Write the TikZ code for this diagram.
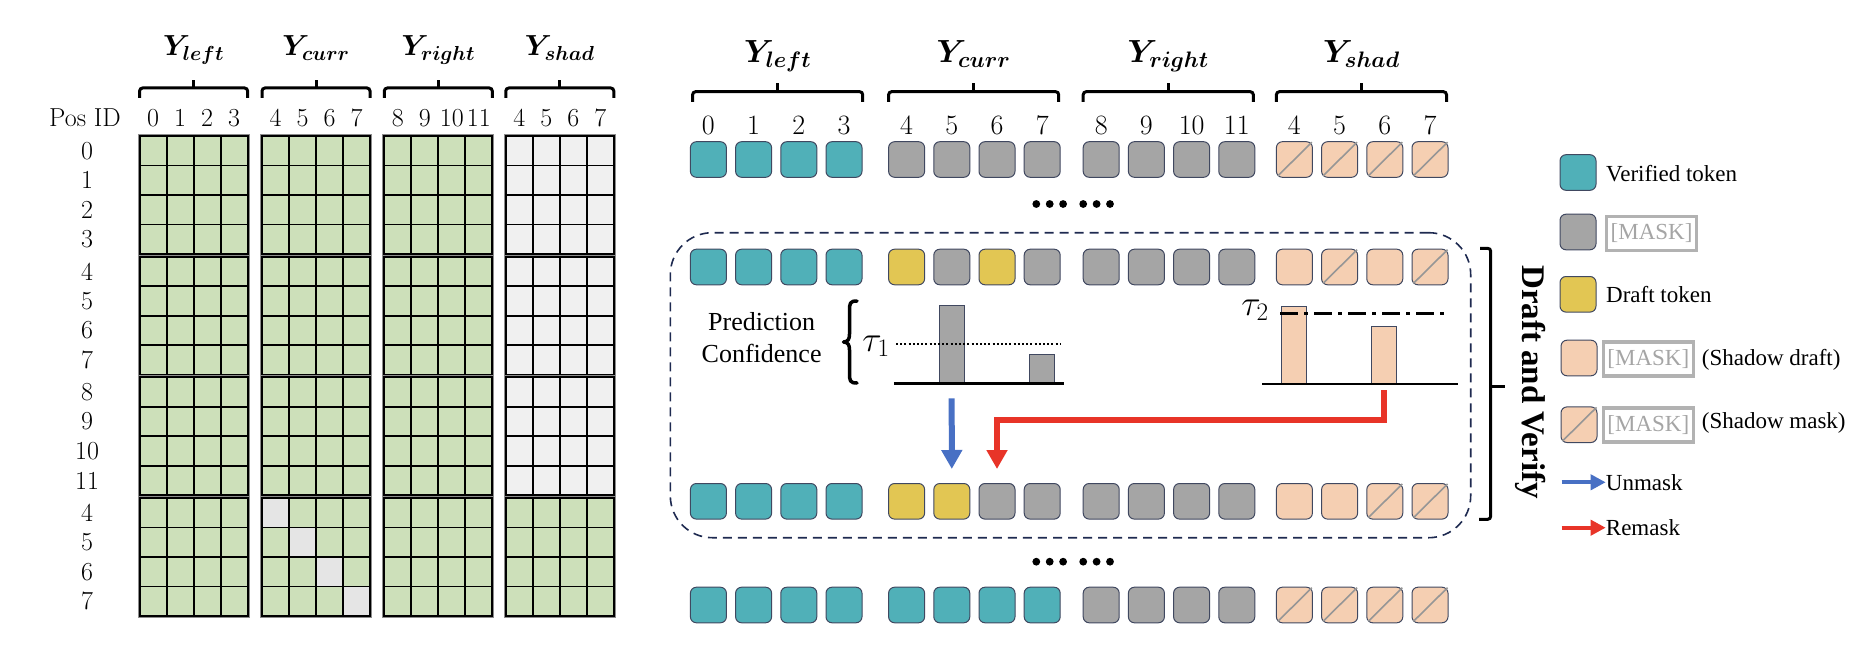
\RequirePackage{fix-cm}
\documentclass[tikz,border=0pt]{standalone}
\usepackage{amsmath}
\usepackage{fontspec}
\usetikzlibrary{arrows.meta}
\newfontfamily\tnr{Liberation Serif}
\definecolor{cellgreen}{RGB}{205,224,186}
\definecolor{shadgray}{RGB}{240,240,240}
\definecolor{diaggray}{RGB}{229,229,229}
\definecolor{tealc}{RGB}{80,176,184}
\definecolor{grayc}{RGB}{165,165,165}
\definecolor{yellowc}{RGB}{226,198,83}
\definecolor{peachc}{RGB}{245,207,178}
\definecolor{tokborder}{RGB}{64,72,96}
\definecolor{slashc}{RGB}{150,150,150}
\definecolor{bluec}{RGB}{72,112,196}
\definecolor{redc}{RGB}{232,52,40}
\definecolor{navyc}{RGB}{30,42,80}
\definecolor{maskgray}{RGB}{178,178,178}
\definecolor{masktext}{RGB}{165,165,165}
\newcommand{\tokrow}[3]{%
  \foreach \col/\sl [count=\i from 0] in {#3}{%
    \pgfmathsetmacro\gx{{690.4,888.6,1083.2,1276.4}[int(\i/4)]+mod(\i,4)*45.2+18}%
    \node[tokbase, fill=\col] (#1c\i) at (\gx,#2) {};%
    \ifnum\sl=1 \draw[slashline] ([shift={(2pt,2pt)}]#1c\i.south west) -- ([shift={(-1pt,-1pt)}]#1c\i.north east);\fi
  }%
}
\newcommand{\topbrace}[5]{%
  \draw[brc] (#1,#5) -- (#1,#3) -- (#2,#3) -- (#2,#5);
  \draw[line width=3pt] ({(#1+#2)/2},#3) -- ({(#1+#2)/2},#4);
}
\begin{document}
\begin{tikzpicture}[x=1pt,y=-1pt,
  cellgrid/.style={line width=1.8pt, black},
  halo/.style={line width=1pt, black!45},
  tokbase/.style={draw=tokborder, line width=1pt, rounded corners=6pt, minimum width=36pt, minimum height=35.6pt, inner sep=0pt},
  slashline/.style={draw=slashc, line width=1.6pt},
  bar/.style={draw=tokborder, line width=1pt, minimum width=25pt, inner sep=0pt, anchor=south},
  numL/.style={font=\fontsize{26}{30}\selectfont, inner sep=0pt},
  numR/.style={font=\fontsize{28}{32}\selectfont, inner sep=0pt},
  ylabL/.style={font=\fontsize{29}{33}\selectfont, anchor=base, inner sep=0pt},
  ylabR/.style={font=\fontsize{32}{36}\selectfont, anchor=base, inner sep=0pt},
  legtext/.style={font=\tnr\fontsize{23}{26}\selectfont, anchor=west, inner sep=0pt},
  maskbox/.style={draw=maskgray, line width=3.2pt, minimum width=90pt, minimum height=34pt, inner sep=0pt, text=masktext, font=\tnr\fontsize{23}{26}\selectfont},
  brc/.style={line width=3pt, rounded corners=3pt},
  unmask/.style={draw=bluec, line width=6pt, -{Triangle[width=20pt,length=19pt]}},
  remask/.style={draw=redc, line width=6pt, -{Triangle[width=20pt,length=19pt]}},
  legunmask/.style={draw=bluec, line width=4pt, -{Triangle[width=15pt,length=15pt]}},
  legremask/.style={draw=redc, line width=4pt, -{Triangle[width=15pt,length=15pt]}}
]
\useasboundingbox (0,0) rectangle (1874,658);

% ---------------- left attention matrix ----------------
\foreach \bx [count=\bi from 0] in {139.6,262.0,384.3,505.8}{
  \foreach \by [count=\bj from 0] in {136,256.7,377.3,498}{
    \def\fc{cellgreen}
    \ifnum\bi=3 \ifnum\bj<3 \def\fc{shadgray}\fi\fi
    \fill[fill=\fc] (\bx,\by) rectangle ++(108,118);
    \ifnum\bi=1 \ifnum\bj=3
      \foreach \k in {0,1,2,3} \fill[diaggray] (\bx+\k*27,\by+\k*29.5) rectangle ++(27,29.5);
    \fi\fi
    \foreach \k in {1,2,3}{
      \draw[cellgrid] (\bx+\k*27,\by) -- ++(0,118);
      \draw[cellgrid] (\bx,\by+\k*29.5) -- ++(108,0);
    }
    \draw[cellgrid] (\bx,\by) rectangle ++(108,118);
    \draw[halo] (\bx-1.6,\by-1.6) rectangle ++(111.2,121.2);
  }
}
% column headers
\node[numL] (posid) at (85,118) {Pos ID};
\foreach \lab [count=\n from 0] in {0,1,2,3,4,5,6,7,8,9,10,11,4,5,6,7}{
  \pgfmathsetmacro\xx{{139.6,262.0,384.3,505.8}[int(\n/4)]+(mod(\n,4)+0.5)*27}
  \node[numL] (ch\n) at (\xx,118) {\lab};
}
% row labels
\foreach \lab [count=\n from 0] in {0,1,2,3,4,5,6,7,8,9,10,11,4,5,6,7}{
  \pgfmathsetmacro\yy{{136,256.7,377.3,498}[int(\n/4)]+(mod(\n,4)+0.5)*29.5}
  \node[numL] (rl\n) at (87,\yy) {\lab};
}
% left braces and labels
\topbrace{139.6}{247.6}{88}{80}{98}
\topbrace{262.0}{370.0}{88}{80}{98}
\topbrace{384.3}{492.3}{88}{80}{98}
\topbrace{505.8}{613.8}{88}{80}{98}
\node[ylabL] (lyl) at (193.6,56) {$\boldsymbol{Y_{left}}$};
\node[ylabL] (lyc) at (316.0,56) {$\boldsymbol{Y_{curr}}$};
\node[ylabL] (lyr) at (438.3,56) {$\boldsymbol{Y_{right}}$};
\node[ylabL] (lys) at (559.8,56) {$\boldsymbol{Y_{shad}}$};

% ---------------- right: token rows ----------------
\topbrace{692.6}{862.7}{91.7}{82.7}{102}
\topbrace{888.6}{1058.7}{91.7}{82.7}{102}
\topbrace{1083.2}{1253.3}{91.7}{82.7}{102}
\topbrace{1276.4}{1446.5}{91.7}{82.7}{102}
\node[ylabR] (ryl) at (777.7,63) {$\boldsymbol{Y_{left}}$};
\node[ylabR] (ryc) at (973.6,63) {$\boldsymbol{Y_{curr}}$};
\node[ylabR] (ryr) at (1168.2,63) {$\boldsymbol{Y_{right}}$};
\node[ylabR] (rys) at (1361.4,63) {$\boldsymbol{Y_{shad}}$};

\foreach \lab [count=\n from 0] in {0,1,2,3,4,5,6,7,8,9,10,11,4,5,6,7}{
  \pgfmathsetmacro\xx{{690.4,888.6,1083.2,1276.4}[int(\n/4)]+mod(\n,4)*45.2+18}
  \node[numR] (tn\n) at (\xx,125) {\lab};
}

\tokrow{r1}{159.5}{tealc/0,tealc/0,tealc/0,tealc/0,grayc/0,grayc/0,grayc/0,grayc/0,grayc/0,grayc/0,grayc/0,grayc/0,peachc/1,peachc/1,peachc/1,peachc/1}
\tokrow{r2}{267}{tealc/0,tealc/0,tealc/0,tealc/0,yellowc/0,grayc/0,yellowc/0,grayc/0,grayc/0,grayc/0,grayc/0,grayc/0,peachc/0,peachc/1,peachc/0,peachc/1}
\tokrow{r3}{501.3}{tealc/0,tealc/0,tealc/0,tealc/0,yellowc/0,yellowc/0,grayc/0,grayc/0,grayc/0,grayc/0,grayc/0,grayc/0,peachc/0,peachc/0,peachc/1,peachc/1}
\tokrow{r4}{605}{tealc/0,tealc/0,tealc/0,tealc/0,tealc/0,tealc/0,tealc/0,tealc/0,grayc/0,grayc/0,grayc/0,grayc/0,peachc/1,peachc/1,peachc/1,peachc/1}

% ellipsis dots
\foreach \dx in {1036.3,1049.7,1063.1,1083.2,1096.6,1110}{
  \fill (\dx,204) circle (3.9);
  \fill (\dx,561.7) circle (3.9);
}

% dashed draft-and-verify box
\node[draw=navyc, line width=1.6pt, dash pattern=on 9pt off 6pt, rounded corners=42pt, minimum width=800.4pt, minimum height=305pt, inner sep=0pt] (dvbox) at (1070.5,385.2) {};

% chart 1
\node[font=\tnr\fontsize{26}{31.6}\selectfont, align=center, inner sep=0pt] (predconf) at (761.6,337.5) {Prediction\\Confidence};
\draw[line width=3.5pt, line join=round, line cap=round] (857,301) .. controls (850,301) and (849.5,303) .. (849.5,311) -- (849.5,334) .. controls (849.5,339) and (848,342) .. (843.5,342) .. controls (848,342) and (849.5,345) .. (849.5,350) -- (849.5,373) .. controls (849.5,381) and (850,383) .. (857,383);
\node[font=\fontsize{36}{40}\selectfont, inner sep=0pt] (tau1) at (876,346) {$\tau_1$};
\node[bar, fill=grayc, minimum height=77.3pt] (bar1) at (951.7,383.3) {};
\node[bar, fill=grayc, minimum height=28.3pt] (bar2) at (1042.3,383.3) {};
\draw[line width=2pt, dash pattern=on 2pt off 2.2pt] (896,344) -- (1061,344);
\draw[line width=2.6pt] (893.8,383.3) -- (1064,383.3);

% chart 2
\node[font=\fontsize{36}{40}\selectfont, inner sep=0pt] (tau2) at (1255,310) {$\tau_2$};
\node[bar, fill=peachc, minimum height=77.3pt] (bar3) at (1294.2,384) {};
\node[bar, fill=peachc, minimum height=57.3pt] (bar4) at (1384.2,384) {};
\draw[line width=2.4pt, dash pattern=on 18pt off 6pt on 4pt off 6pt] (1280,313.3) -- (1447.3,313.3);
\draw[line width=2.6pt] (1262,384) -- (1457.7,384);

% unmask / remask arrows
\coordinate (redmid) at (1384.2,420);
\draw[unmask] ([yshift=-15pt]bar1.south) -- ([yshift=14pt]r3c5.north);
\draw[remask] ([yshift=-6pt]bar4.south) -- (bar4.south |- redmid) -- (r3c6.north |- redmid) -- ([yshift=14pt]r3c6.north);

% right bracket
\draw[brc] (1480,248.3) -- (1490.7,248.3) -- (1490.7,519.3) -- (1479,519.3);
\draw[line width=3pt] (1490.7,386) -- (1505,386);
\node[font=\tnr\bfseries\fontsize{33}{36}\selectfont, rotate=-90, inner sep=0pt] (dvlabel) at (1531,382) {Draft and Verify};

% legend
\node[tokbase, fill=tealc] (lg1) at (1578,172.5) {};
\node[legtext] (lt1) at (1606,173.3) {Verified token};
\node[tokbase, fill=grayc] (lg2) at (1578,232) {};
\node[maskbox] (lm2) at (1651.6,233.3) {[MASK]};
\node[tokbase, fill=yellowc] (lg3) at (1578,294.3) {};
\node[legtext] (lt3) at (1606,294.3) {Draft token};
\node[tokbase, fill=peachc] (lg4) at (1579,358) {};
\node[maskbox] (lm4) at (1648.3,359) {[MASK]};
\node[legtext] (lt4) at (1701.7,360) {(Shadow draft)};
\node[tokbase, fill=peachc] (lg5) at (1579,424.7) {};
\draw[slashline] ([shift={(2pt,2pt)}]lg5.south west) -- ([shift={(-1pt,-1pt)}]lg5.north east);
\node[maskbox] (lm5) at (1648.3,425) {[MASK]};
\node[legtext] (lt5) at (1701.7,423) {(Shadow mask)};
\coordinate (lu) at (1561.7,482.3);
\node[legtext] (lt6) at (1605.7,482.3) {Unmask};
\draw[legunmask] (lu) -- (lt6.west);
\coordinate (lr) at (1561.7,527.7);
\node[legtext] (lt7) at (1605.7,527.7) {Remask};
\draw[legremask] (lr) -- (lt7.west);
\end{tikzpicture}
\end{document}
